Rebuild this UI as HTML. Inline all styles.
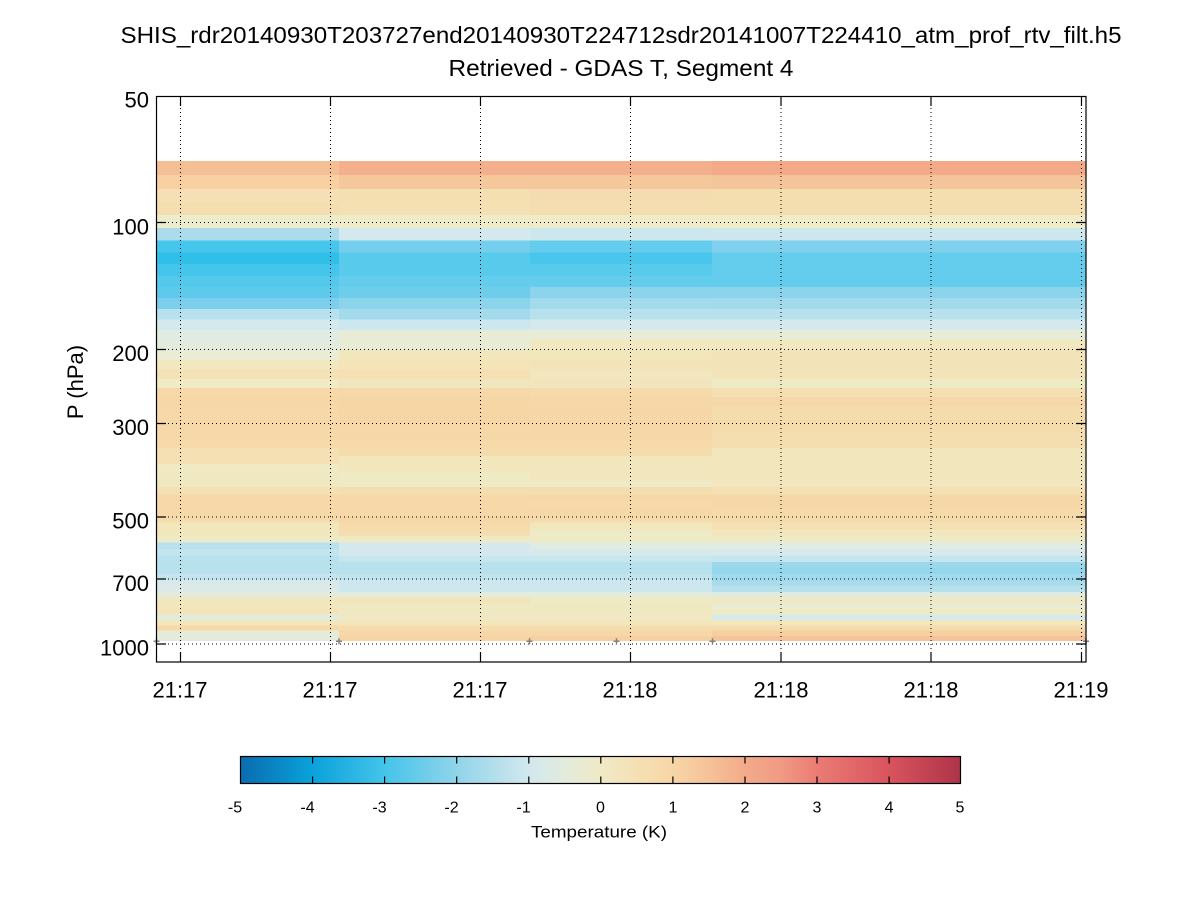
<!DOCTYPE html>
<html><head><meta charset="utf-8"><style>
html,body{margin:0;padding:0;background:#fff;}
svg{display:block;font-family:"Liberation Sans",Arial,sans-serif;}
</style></head><body>
<svg width="1200" height="900" viewBox="0 0 1200 900" xmlns="http://www.w3.org/2000/svg">
<defs>
<linearGradient id="cm" x1="0" x2="1" y1="0" y2="0">
<stop offset="0" stop-color="#0a6cb0"/>
<stop offset="0.1" stop-color="#0aa2da"/>
<stop offset="0.2" stop-color="#44c4ea"/>
<stop offset="0.3" stop-color="#90d4ea"/>
<stop offset="0.4" stop-color="#d2e8ee"/>
<stop offset="0.45" stop-color="#e2ebdc"/>
<stop offset="0.5" stop-color="#efeac6"/>
<stop offset="0.55" stop-color="#f5e0b4"/>
<stop offset="0.6" stop-color="#f7d6a6"/>
<stop offset="0.65" stop-color="#f5c29a"/>
<stop offset="0.7" stop-color="#f3ab8a"/>
<stop offset="0.75" stop-color="#f19a84"/>
<stop offset="0.8" stop-color="#ea7c74"/>
<stop offset="0.9" stop-color="#d9545e"/>
<stop offset="1" stop-color="#ae3449"/>
</linearGradient>
</defs>
<rect x="0" y="0" width="1200" height="900" fill="#fff"/>

<!-- Title -->
<text x="621" y="43" font-size="23" text-anchor="middle" textLength="1001" lengthAdjust="spacingAndGlyphs">SHIS_rdr20140930T203727end20140930T224712sdr20141007T224410_atm_prof_rtv_filt.h5</text>
<text x="621" y="76" font-size="23" text-anchor="middle" textLength="345" lengthAdjust="spacingAndGlyphs">Retrieved - GDAS T, Segment 4</text>

<!-- Data cells -->
<g shape-rendering="crispEdges">
<rect x="156" y="161.1" width="183" height="14.6" fill="#f5bf96"/><rect x="339" y="161.1" width="191" height="14.6" fill="#f4b08c"/><rect x="530" y="161.1" width="182" height="14.6" fill="#f4b08c"/><rect x="712" y="161.1" width="374" height="14.6" fill="#f4aa88"/>
<rect x="156" y="175.2" width="183" height="14.1" fill="#f8d0a2"/><rect x="339" y="175.2" width="191" height="14.1" fill="#f5c89c"/><rect x="530" y="175.2" width="182" height="14.1" fill="#f5c89c"/><rect x="712" y="175.2" width="374" height="14.1" fill="#f4c49a"/>
<rect x="156" y="188.8" width="183" height="13.9" fill="#f4e0b4"/><rect x="339" y="188.8" width="191" height="13.9" fill="#f4dfb0"/><rect x="530" y="188.8" width="182" height="13.9" fill="#f4dcb0"/><rect x="712" y="188.8" width="374" height="13.9" fill="#f4deb0"/>
<rect x="156" y="202.2" width="183" height="13.5" fill="#f4deb0"/><rect x="339" y="202.2" width="191" height="13.5" fill="#f4e0b2"/><rect x="530" y="202.2" width="182" height="13.5" fill="#f4ddae"/><rect x="712" y="202.2" width="374" height="13.5" fill="#f4deb0"/>
<rect x="156" y="215.2" width="183" height="13.1" fill="#ecebcc"/><rect x="339" y="215.2" width="191" height="13.1" fill="#eeebc8"/><rect x="530" y="215.2" width="182" height="13.1" fill="#eeebc8"/><rect x="712" y="215.2" width="374" height="13.1" fill="#f0ecc8"/>
<rect x="156" y="227.8" width="183" height="13" fill="#acdcec"/><rect x="339" y="227.8" width="191" height="13" fill="#d4e9ee"/><rect x="530" y="227.8" width="182" height="13" fill="#cce7ee"/><rect x="712" y="227.8" width="374" height="13" fill="#cce7ee"/>
<rect x="156" y="240.3" width="183" height="12.6" fill="#45c6ec"/><rect x="339" y="240.3" width="191" height="12.6" fill="#74cfee"/><rect x="530" y="240.3" width="182" height="12.6" fill="#64ccec"/><rect x="712" y="240.3" width="374" height="12.6" fill="#80d1ee"/>
<rect x="156" y="252.4" width="183" height="12.3" fill="#2fbfe9"/><rect x="339" y="252.4" width="191" height="12.3" fill="#58caec"/><rect x="530" y="252.4" width="182" height="12.3" fill="#48c6ec"/><rect x="712" y="252.4" width="374" height="12.3" fill="#64ccec"/>
<rect x="156" y="264.2" width="183" height="12.1" fill="#44c5ec"/><rect x="339" y="264.2" width="191" height="12.1" fill="#58caec"/><rect x="530" y="264.2" width="182" height="12.1" fill="#58caec"/><rect x="712" y="264.2" width="374" height="12.1" fill="#64ccec"/>
<rect x="156" y="275.8" width="183" height="11.8" fill="#54c9ec"/><rect x="339" y="275.8" width="191" height="11.8" fill="#64ccec"/><rect x="530" y="275.8" width="182" height="11.8" fill="#64ccec"/><rect x="712" y="275.8" width="374" height="11.8" fill="#64ccec"/>
<rect x="156" y="287.1" width="183" height="11.5" fill="#5dcaec"/><rect x="339" y="287.1" width="191" height="11.5" fill="#6fcdec"/><rect x="530" y="287.1" width="182" height="11.5" fill="#8cd4ec"/><rect x="712" y="287.1" width="374" height="11.5" fill="#8cd4ec"/>
<rect x="156" y="298.1" width="183" height="11.4" fill="#7ccfec"/><rect x="339" y="298.1" width="191" height="11.4" fill="#8bd4ec"/><rect x="530" y="298.1" width="182" height="11.4" fill="#a4dbec"/><rect x="712" y="298.1" width="374" height="11.4" fill="#a2daec"/>
<rect x="156" y="309" width="183" height="11.1" fill="#b8e1ee"/><rect x="339" y="309" width="191" height="11.1" fill="#a4dbec"/><rect x="530" y="309" width="182" height="11.1" fill="#b8e1ee"/><rect x="712" y="309" width="374" height="11.1" fill="#b8e1ee"/>
<rect x="156" y="319.6" width="183" height="10.9" fill="#d4e9ee"/><rect x="339" y="319.6" width="191" height="10.9" fill="#cce7ee"/><rect x="530" y="319.6" width="182" height="10.9" fill="#d4e9ee"/><rect x="712" y="319.6" width="374" height="10.9" fill="#d4e9ee"/>
<rect x="156" y="330" width="183" height="10.6" fill="#e0ebe2"/><rect x="339" y="330" width="191" height="10.6" fill="#e8ecd6"/><rect x="530" y="330" width="182" height="10.6" fill="#e8ecd6"/><rect x="712" y="330" width="374" height="10.6" fill="#e8ecd6"/>
<rect x="156" y="340.1" width="183" height="10.5" fill="#e2ebde"/><rect x="339" y="340.1" width="191" height="10.5" fill="#e8ecd4"/><rect x="530" y="340.1" width="182" height="10.5" fill="#f2e8c0"/><rect x="712" y="340.1" width="374" height="10.5" fill="#f2e8c0"/>
<rect x="156" y="350.1" width="183" height="10.3" fill="#eaecd4"/><rect x="339" y="350.1" width="191" height="10.3" fill="#f2e6bc"/><rect x="530" y="350.1" width="182" height="10.3" fill="#f2e6bc"/><rect x="712" y="350.1" width="374" height="10.3" fill="#f2e4b8"/>
<rect x="156" y="359.9" width="183" height="10.1" fill="#f2e8c0"/><rect x="339" y="359.9" width="191" height="10.1" fill="#f4e4b8"/><rect x="530" y="359.9" width="182" height="10.1" fill="#f2e4b8"/><rect x="712" y="359.9" width="374" height="10.1" fill="#f2e4b8"/>
<rect x="156" y="369.5" width="183" height="9.9" fill="#f3e2b6"/><rect x="339" y="369.5" width="191" height="9.9" fill="#f4e0b2"/><rect x="530" y="369.5" width="182" height="9.9" fill="#f2e6be"/><rect x="712" y="369.5" width="374" height="9.9" fill="#f2e4b8"/>
<rect x="156" y="378.9" width="183" height="9.7" fill="#f0ebc4"/><rect x="339" y="378.9" width="191" height="9.7" fill="#f0e6be"/><rect x="530" y="378.9" width="182" height="9.7" fill="#f2e4bc"/><rect x="712" y="378.9" width="374" height="9.7" fill="#eeeac4"/>
<rect x="156" y="388.1" width="183" height="9.6" fill="#f7d8a8"/><rect x="339" y="388.1" width="191" height="9.6" fill="#f6d8a8"/><rect x="530" y="388.1" width="182" height="9.6" fill="#f6daaa"/><rect x="712" y="388.1" width="374" height="9.6" fill="#f4dfb2"/>
<rect x="156" y="397.2" width="183" height="9.4" fill="#f7d7a6"/><rect x="339" y="397.2" width="191" height="9.4" fill="#f7d6a6"/><rect x="530" y="397.2" width="182" height="9.4" fill="#f6d8a8"/><rect x="712" y="397.2" width="374" height="9.4" fill="#f6d8a8"/>
<rect x="156" y="406.1" width="183" height="9.2" fill="#f7d8a8"/><rect x="339" y="406.1" width="191" height="9.2" fill="#f7d6a6"/><rect x="530" y="406.1" width="182" height="9.2" fill="#f6d6a6"/><rect x="712" y="406.1" width="374" height="9.2" fill="#f4dcac"/>
<rect x="156" y="414.8" width="183" height="9.1" fill="#f7d8a8"/><rect x="339" y="414.8" width="191" height="9.1" fill="#f7d6a6"/><rect x="530" y="414.8" width="182" height="9.1" fill="#f6d8a8"/><rect x="712" y="414.8" width="374" height="9.1" fill="#f4dcac"/>
<rect x="156" y="423.4" width="183" height="8.9" fill="#f7d8a8"/><rect x="339" y="423.4" width="191" height="8.9" fill="#f7d8a8"/><rect x="530" y="423.4" width="182" height="8.9" fill="#f6d8a8"/><rect x="712" y="423.4" width="374" height="8.9" fill="#f4dcac"/>
<rect x="156" y="431.8" width="183" height="8.8" fill="#f7d8a8"/><rect x="339" y="431.8" width="191" height="8.8" fill="#f6d8a8"/><rect x="530" y="431.8" width="182" height="8.8" fill="#f6d8a8"/><rect x="712" y="431.8" width="374" height="8.8" fill="#f4deb0"/>
<rect x="156" y="440.1" width="183" height="8.6" fill="#f6daaa"/><rect x="339" y="440.1" width="191" height="8.6" fill="#f6daaa"/><rect x="530" y="440.1" width="182" height="8.6" fill="#f6daaa"/><rect x="712" y="440.1" width="374" height="8.6" fill="#f4deb0"/>
<rect x="156" y="448.2" width="183" height="8.5" fill="#f4e0b2"/><rect x="339" y="448.2" width="191" height="8.5" fill="#f4dcac"/><rect x="530" y="448.2" width="182" height="8.5" fill="#f4dcac"/><rect x="712" y="448.2" width="374" height="8.5" fill="#f2e6bc"/>
<rect x="156" y="456.2" width="183" height="8.4" fill="#f4e0b4"/><rect x="339" y="456.2" width="191" height="8.4" fill="#f2e6bc"/><rect x="530" y="456.2" width="182" height="8.4" fill="#f2e6bc"/><rect x="712" y="456.2" width="374" height="8.4" fill="#f2e6bc"/>
<rect x="156" y="464.1" width="183" height="8.2" fill="#f0eac4"/><rect x="339" y="464.1" width="191" height="8.2" fill="#f2e6bc"/><rect x="530" y="464.1" width="182" height="8.2" fill="#f2e6be"/><rect x="712" y="464.1" width="374" height="8.2" fill="#f2e6bc"/>
<rect x="156" y="471.8" width="183" height="8.1" fill="#f0e8c0"/><rect x="339" y="471.8" width="191" height="8.1" fill="#eeeac4"/><rect x="530" y="471.8" width="182" height="8.1" fill="#f2e6bc"/><rect x="712" y="471.8" width="374" height="8.1" fill="#f2e6bc"/>
<rect x="156" y="479.4" width="183" height="8" fill="#f0e8c0"/><rect x="339" y="479.4" width="191" height="8" fill="#eeeac4"/><rect x="530" y="479.4" width="182" height="8" fill="#eeeac6"/><rect x="712" y="479.4" width="374" height="8" fill="#f2e6be"/>
<rect x="156" y="486.9" width="183" height="7.9" fill="#f4e0b2"/><rect x="339" y="486.9" width="191" height="7.9" fill="#f4deb0"/><rect x="530" y="486.9" width="182" height="7.9" fill="#f4deb0"/><rect x="712" y="486.9" width="374" height="7.9" fill="#f4e0b2"/>
<rect x="156" y="494.3" width="183" height="7.7" fill="#f7d8a8"/><rect x="339" y="494.3" width="191" height="7.7" fill="#f7d8a8"/><rect x="530" y="494.3" width="182" height="7.7" fill="#f6d8a8"/><rect x="712" y="494.3" width="374" height="7.7" fill="#f6d8a8"/>
<rect x="156" y="501.5" width="183" height="7.6" fill="#f7d8a8"/><rect x="339" y="501.5" width="191" height="7.6" fill="#f7d8a8"/><rect x="530" y="501.5" width="182" height="7.6" fill="#f6daaa"/><rect x="712" y="501.5" width="374" height="7.6" fill="#f6d8a8"/>
<rect x="156" y="508.6" width="183" height="7.5" fill="#f7d8a8"/><rect x="339" y="508.6" width="191" height="7.5" fill="#f7d8a8"/><rect x="530" y="508.6" width="182" height="7.5" fill="#f6d8a8"/><rect x="712" y="508.6" width="374" height="7.5" fill="#f6daaa"/>
<rect x="156" y="515.6" width="183" height="7.4" fill="#f6dcac"/><rect x="339" y="515.6" width="191" height="7.4" fill="#f7d8a8"/><rect x="530" y="515.6" width="182" height="7.4" fill="#f6dcac"/><rect x="712" y="515.6" width="374" height="7.4" fill="#f4dcac"/>
<rect x="156" y="522.5" width="183" height="7.3" fill="#f2e6bc"/><rect x="339" y="522.5" width="191" height="7.3" fill="#f6daaa"/><rect x="530" y="522.5" width="182" height="7.3" fill="#f2e6bc"/><rect x="712" y="522.5" width="374" height="7.3" fill="#f4e0b2"/>
<rect x="156" y="529.3" width="183" height="7.2" fill="#f2e6bc"/><rect x="339" y="529.3" width="191" height="7.2" fill="#f4deb0"/><rect x="530" y="529.3" width="182" height="7.2" fill="#eeeac6"/><rect x="712" y="529.3" width="374" height="7.2" fill="#f2e6bc"/>
<rect x="156" y="536" width="183" height="7.1" fill="#eeeac8"/><rect x="339" y="536" width="191" height="7.1" fill="#eeeac6"/><rect x="530" y="536" width="182" height="7.1" fill="#eeeac6"/><rect x="712" y="536" width="374" height="7.1" fill="#eeeac6"/>
<rect x="156" y="542.6" width="183" height="7" fill="#b8e1ee"/><rect x="339" y="542.6" width="191" height="7" fill="#d4e9ee"/><rect x="530" y="542.6" width="182" height="7" fill="#e0ebe2"/><rect x="712" y="542.6" width="374" height="7" fill="#e0ebe2"/>
<rect x="156" y="549.1" width="183" height="6.9" fill="#c4e4ee"/><rect x="339" y="549.1" width="191" height="6.9" fill="#d4e9ee"/><rect x="530" y="549.1" width="182" height="6.9" fill="#d8e9ec"/><rect x="712" y="549.1" width="374" height="6.9" fill="#d8e9ec"/>
<rect x="156" y="555.5" width="183" height="6.8" fill="#b8e1ee"/><rect x="339" y="555.5" width="191" height="6.8" fill="#c8e6ee"/><rect x="530" y="555.5" width="182" height="6.8" fill="#c8e6ee"/><rect x="712" y="555.5" width="374" height="6.8" fill="#c4e4ee"/>
<rect x="156" y="561.8" width="183" height="6.6" fill="#b8e1ee"/><rect x="339" y="561.8" width="191" height="6.6" fill="#b8e1ee"/><rect x="530" y="561.8" width="182" height="6.6" fill="#b8e1ee"/><rect x="712" y="561.8" width="374" height="6.6" fill="#9cd8ec"/>
<rect x="156" y="567.9" width="183" height="6.7" fill="#b8e1ee"/><rect x="339" y="567.9" width="191" height="6.7" fill="#b8e1ee"/><rect x="530" y="567.9" width="182" height="6.7" fill="#b8e1ee"/><rect x="712" y="567.9" width="374" height="6.7" fill="#94d6ec"/>
<rect x="156" y="574.1" width="183" height="6.5" fill="#c4e4ee"/><rect x="339" y="574.1" width="191" height="6.5" fill="#c0e3ee"/><rect x="530" y="574.1" width="182" height="6.5" fill="#c0e3ee"/><rect x="712" y="574.1" width="374" height="6.5" fill="#a0daec"/>
<rect x="156" y="580.1" width="183" height="6.4" fill="#d8e9ec"/><rect x="339" y="580.1" width="191" height="6.4" fill="#cce7ee"/><rect x="530" y="580.1" width="182" height="6.4" fill="#cce7ee"/><rect x="712" y="580.1" width="374" height="6.4" fill="#a8dcec"/>
<rect x="156" y="586" width="183" height="6.4" fill="#dce9e6"/><rect x="339" y="586" width="191" height="6.4" fill="#cce7ee"/><rect x="530" y="586" width="182" height="6.4" fill="#cce7ee"/><rect x="712" y="586" width="374" height="6.4" fill="#b8e1ee"/>
<rect x="156" y="591.9" width="183" height="6.2" fill="#e4ebdc"/><rect x="339" y="591.9" width="191" height="6.2" fill="#e4ebdc"/><rect x="530" y="591.9" width="182" height="6.2" fill="#e4ebdc"/><rect x="712" y="591.9" width="374" height="6.2" fill="#e0ebe0"/>
<rect x="156" y="597.6" width="183" height="6.2" fill="#f2e6bc"/><rect x="339" y="597.6" width="191" height="6.2" fill="#f2e4b8"/><rect x="530" y="597.6" width="182" height="6.2" fill="#eeeac4"/><rect x="712" y="597.6" width="374" height="6.2" fill="#f0e8c0"/>
<rect x="156" y="603.3" width="183" height="6.1" fill="#f2e6bc"/><rect x="339" y="603.3" width="191" height="6.1" fill="#f0e8c0"/><rect x="530" y="603.3" width="182" height="6.1" fill="#f0e8c0"/><rect x="712" y="603.3" width="374" height="6.1" fill="#e8ecd4"/>
<rect x="156" y="608.9" width="183" height="6.1" fill="#f2e4b8"/><rect x="339" y="608.9" width="191" height="6.1" fill="#f0e8c0"/><rect x="530" y="608.9" width="182" height="6.1" fill="#f0e8c0"/><rect x="712" y="608.9" width="374" height="6.1" fill="#eeeac4"/>
<rect x="156" y="614.5" width="183" height="5.9" fill="#e2ebdc"/><rect x="339" y="614.5" width="191" height="5.9" fill="#f0e8c2"/><rect x="530" y="614.5" width="182" height="5.9" fill="#f0e8c2"/><rect x="712" y="614.5" width="374" height="5.9" fill="#d8e9ec"/>
<rect x="156" y="619.9" width="183" height="5.9" fill="#f2e6bc"/><rect x="339" y="619.9" width="191" height="5.9" fill="#f2e6bc"/><rect x="530" y="619.9" width="182" height="5.9" fill="#f2e6bc"/><rect x="712" y="619.9" width="374" height="5.9" fill="#f2e6bc"/>
<rect x="156" y="625.3" width="183" height="5.8" fill="#f7d8a8"/><rect x="339" y="625.3" width="191" height="5.8" fill="#f6dcac"/><rect x="530" y="625.3" width="182" height="5.8" fill="#f6dcac"/><rect x="712" y="625.3" width="374" height="5.8" fill="#f6dcac"/>
<rect x="156" y="630.6" width="183" height="5.8" fill="#e6ebd8"/><rect x="339" y="630.6" width="191" height="5.8" fill="#f6d8a8"/><rect x="530" y="630.6" width="182" height="5.8" fill="#f6d8a8"/><rect x="712" y="630.6" width="374" height="5.8" fill="#f6d0a0"/>
<rect x="156" y="635.9" width="183" height="5.2" fill="#e2ebdc"/><rect x="339" y="635.9" width="191" height="5.2" fill="#f6d4a4"/><rect x="530" y="635.9" width="182" height="5.2" fill="#f6d0a0"/><rect x="712" y="635.9" width="374" height="5.2" fill="#f6c49a"/>
</g>

<!-- Grid lines (dotted) -->
<g stroke="#000" stroke-width="1" stroke-dasharray="1,3" fill="none">
<line x1="180.5" y1="96" x2="180.5" y2="662"/>
<line x1="330.5" y1="96" x2="330.5" y2="662"/>
<line x1="480.5" y1="96" x2="480.5" y2="662"/>
<line x1="630.5" y1="96" x2="630.5" y2="662"/>
<line x1="781" y1="96" x2="781" y2="662"/>
<line x1="931" y1="96" x2="931" y2="662"/>
<line x1="1081.5" y1="96" x2="1081.5" y2="662"/>
<line x1="156" y1="222.5" x2="1086" y2="222.5"/>
<line x1="156" y1="349.5" x2="1086" y2="349.5"/>
<line x1="156" y1="423.5" x2="1086" y2="423.5"/>
<line x1="156" y1="517" x2="1086" y2="517"/>
<line x1="156" y1="579" x2="1086" y2="579"/>
<line x1="156" y1="644" x2="1086" y2="644"/>
</g>

<!-- Markers -->
<g stroke="#808080" stroke-width="1.5">
<path d="M153.5 641.3h6M156.5 638.3v6"/>
<path d="M336 641.3h6M339 638.3v6"/>
<path d="M526.5 641.3h6M529.5 638.3v6"/>
<path d="M613.5 641.3h6M616.5 638.3v6"/>
<path d="M709.5 641.3h6M712.5 638.3v6"/>
<path d="M1083 641.3h6M1086 638.3v6"/>
</g>

<!-- Axes box -->
<rect x="156.5" y="96.5" width="929.5" height="565.5" fill="none" stroke="#000" stroke-width="1.2"/>

<!-- Ticks -->
<g stroke="#000" stroke-width="1.2">
<path d="M180.5 662v-10M330.5 662v-10M480.5 662v-10M630.5 662v-10M781 662v-10M931 662v-10M1081.5 662v-10"/>
<path d="M180.5 96v10M330.5 96v10M480.5 96v10M630.5 96v10M781 96v10M931 96v10M1081.5 96v10"/>
<path d="M156 222.5h10M156 349.5h10M156 423.5h10M156 517h10M156 579h10M156 644h10"/>
<path d="M1086 222.5h-10M1086 349.5h-10M1086 423.5h-10M1086 517h-10M1086 579h-10M1086 644h-10"/>
</g>

<!-- Y tick labels -->
<g font-size="22" text-anchor="end" fill="#000">
<text x="149" y="107.5">50</text>
<text x="149" y="234.5">100</text>
<text x="149" y="361">200</text>
<text x="149" y="435">300</text>
<text x="149" y="528.5">500</text>
<text x="149" y="591">700</text>
<text x="149" y="655.7">1000</text>
</g>

<!-- X tick labels -->
<g font-size="22" text-anchor="middle" fill="#000">
<text x="180" y="697.7">21:17</text>
<text x="330" y="697.7">21:17</text>
<text x="480" y="697.7">21:17</text>
<text x="630" y="697.7">21:18</text>
<text x="781" y="697.7">21:18</text>
<text x="931" y="697.7">21:18</text>
<text x="1081" y="697.7">21:19</text>
</g>

<!-- Y axis label -->
<text x="0" y="0" font-size="22" text-anchor="middle" transform="translate(83,382) rotate(-90)">P (hPa)</text>

<!-- Colorbar -->
<rect x="240.5" y="756.5" width="720" height="27" fill="url(#cm)" stroke="#000" stroke-width="1.2"/>
<g stroke="#000" stroke-width="1.2">
<path d="M312.6 756.5v7M384.6 756.5v7M456.7 756.5v7M528.8 756.5v7M600.8 756.5v7M672.9 756.5v7M745 756.5v7M817 756.5v7M889.1 756.5v7"/>
<path d="M312.6 783.5v-7M384.6 783.5v-7M456.7 783.5v-7M528.8 783.5v-7M600.8 783.5v-7M672.9 783.5v-7M745 783.5v-7M817 783.5v-7M889.1 783.5v-7"/>
</g>
<g font-size="16" text-anchor="middle" fill="#000">
<text x="235" y="812.5">-5</text>
<text x="307.5" y="812.5">-4</text>
<text x="379.5" y="812.5">-3</text>
<text x="451.5" y="812.5">-2</text>
<text x="523.5" y="812.5">-1</text>
<text x="600.5" y="812.5">0</text>
<text x="672.9" y="812.5">1</text>
<text x="745" y="812.5">2</text>
<text x="817" y="812.5">3</text>
<text x="889.1" y="812.5">4</text>
<text x="960" y="812.5">5</text>
</g>
<text x="599" y="837.5" font-size="17" text-anchor="middle" textLength="136" lengthAdjust="spacingAndGlyphs">Temperature (K)</text>
</svg>
</body></html>
